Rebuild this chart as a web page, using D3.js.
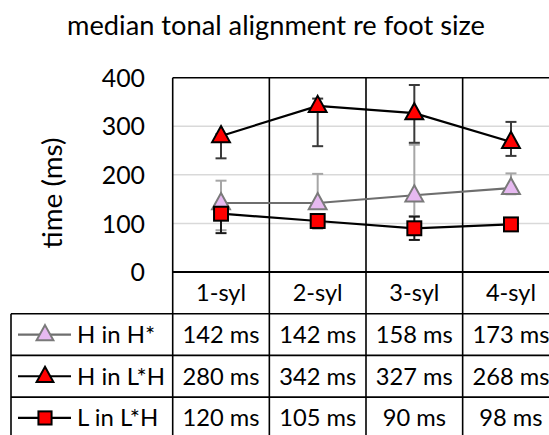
<!DOCTYPE html>
<html><head><meta charset="utf-8">
<script src="https://cdn.jsdelivr.net/npm/d3@7"></script>
<style>html,body{margin:0;padding:0;background:#fff;} svg{display:block;font-family:Lato,"Liberation Sans",sans-serif;}</style>
</head><body>
<svg id="c" width="549" height="435"></svg>
<script>
const title = "median tonal alignment re foot size";
const yTitle = "time (ms)";
const categories = ["1-syl", "2-syl", "3-syl", "4-syl"];
const yTicks = [0, 100, 200, 300, 400];
const seriesNames = ["H in H*", "H in L*H", "L in L*H"];
const hInHStar = [142, 142, 158, 173];
const hInLStarH = [280, 342, 327, 268];
const lInLStarH = [120, 105, 90, 98];
const hInHStarLow = [86, 130, 115, 160];
const hInHStarHigh = [188, 202, 262, 203];
const hInLStarHLow = [234, 259, 266, 239];
const hInLStarHHigh = [284, 357, 385, 309];
const lInLStarHLow = [80, 90, 66, 93];
const lInLStarHHigh = [130, 112, 114, 103];

const series = [
  {name: seriesNames[0], values: hInHStar, lo: hInHStarLow, hi: hInHStarHigh, marker: "triangle",
   line: "#6e6e6e", fill: "#e6b9f0", stroke: "#7a7a7a", err: "#a6a6a6"},
  {name: seriesNames[1], values: hInLStarH, lo: hInLStarHLow, hi: hInLStarHHigh, marker: "triangle",
   line: "#000", fill: "#ff0000", stroke: "#000", err: "#3a3a3a"},
  {name: seriesNames[2], values: lInLStarH, lo: lInLStarHLow, hi: lInLStarHHigh, marker: "square",
   line: "#000", fill: "#ff0000", stroke: "#000", err: "#1a1a1a"}
];

const svg = d3.select("#c");
const L = 172.7, R = 559.3, T = 77.7, B = 272;
const rowH = 41.7;
const tableBottom = B + rowH * 4;
const legendLeft = 11;

const x = d3.scaleBand().domain(categories).range([L, R]);
const y = d3.scaleLinear().domain([0, 400]).range([B, T]);
const cx = c => x(c) + x.bandwidth() / 2;

// scale a font size so that a sample string has a given width
function fitSize(sample, base, target) {
  const t = svg.append("text").attr("font-size", base).text(sample);
  const w = t.node().getComputedTextLength();
  t.remove();
  return w > 0 ? base * target / w : base;
}
const fsTitle = fitSize(title, 26, 418);
const fsCell = fitSize("158 ms", 24, 77);
const fsHead = fitSize("3-syl", 24, 50);
const fsLegend = fitSize("H in L*H", 24, 88);
const fsTick = fitSize("400", 24, 43.3);
const fsYTitle = fitSize(yTitle, 26, 111);

// title
svg.append("text").attr("x", 276).attr("y", 35).attr("text-anchor", "middle")
  .attr("font-size", fsTitle).attr("fill", "#000").text(title);

// y axis title
svg.append("text").attr("transform", "translate(62,193) rotate(-90)")
  .attr("text-anchor", "middle").attr("font-size", fsYTitle).attr("fill", "#000").text(yTitle);

// gridlines
svg.append("g").selectAll("line").data(yTicks.filter(t => t > 0 && t < 400)).join("line")
  .attr("x1", L).attr("x2", R).attr("y1", d => y(d)).attr("y2", d => y(d))
  .attr("stroke", "#d9d9d9").attr("stroke-width", 1.5);

// y axis labels
const yAxis = d3.axisLeft(y).tickValues(yTicks).tickSize(0).tickPadding(0);
const ya = svg.append("g").attr("transform", `translate(145,0)`).call(yAxis);
ya.select(".domain").remove();
ya.selectAll("text").attr("font-size", fsTick).attr("font-family", "Lato").attr("fill", "#000").attr("dy", "0.35em");

// borders
const g = svg.append("g").attr("stroke", "#000").attr("stroke-width", 1.6);
g.append("line").attr("x1", L).attr("x2", R).attr("y1", T).attr("y2", T);
g.append("line").attr("x1", L).attr("x2", L).attr("y1", T).attr("y2", tableBottom);
g.selectAll(".vd").data(categories.slice(1)).join("line")
  .attr("x1", d => x(d)).attr("x2", d => x(d)).attr("y1", T).attr("y2", tableBottom);
g.append("line").attr("x1", L).attr("x2", R).attr("y1", B).attr("y2", B).attr("stroke-width", 2.2);
[1, 2, 3, 4].forEach(i => {
  g.append("line").attr("x1", legendLeft).attr("x2", R).attr("y1", B + rowH * i).attr("y2", B + rowH * i);
});
g.append("line").attr("x1", legendLeft).attr("x2", legendLeft).attr("y1", B + rowH).attr("y2", tableBottom);

// marker drawing
function drawMarker(sel, s, px, py, size) {
  if (s.marker === "triangle") {
    const w = size * 1.05, h = size * 0.95;
    sel.append("path")
      .attr("d", `M${px},${py - h * 0.62} L${px + w / 2},${py + h * 0.38} L${px - w / 2},${py + h * 0.38} Z`)
      .attr("fill", s.fill).attr("stroke", s.stroke).attr("stroke-width", 2).attr("stroke-linejoin", "miter");
  } else {
    const a = size * 0.82;
    sel.append("rect").attr("x", px - a / 2).attr("y", py - a / 2).attr("width", a).attr("height", a)
      .attr("fill", s.fill).attr("stroke", s.stroke).attr("stroke-width", 2);
  }
}

// series
const plot = svg.append("g");
series.forEach(s => {
  const sg = plot.append("g");
  categories.forEach((c, i) => {
    const px = cx(c);
    sg.append("line").attr("x1", px).attr("x2", px).attr("y1", y(s.lo[i])).attr("y2", y(s.hi[i]))
      .attr("stroke", s.err).attr("stroke-width", 2);
    [s.lo[i], s.hi[i]].forEach(v => {
      sg.append("line").attr("x1", px - 5.5).attr("x2", px + 5.5).attr("y1", y(v)).attr("y2", y(v))
        .attr("stroke", s.err).attr("stroke-width", 2);
    });
  });
  const line = d3.line().x((d, i) => cx(categories[i])).y(d => y(d));
  sg.append("path").attr("d", line(s.values)).attr("fill", "none")
    .attr("stroke", s.line).attr("stroke-width", 2.2);
  categories.forEach((c, i) => drawMarker(sg, s, cx(c), y(s.values[i]), 17));
});

// table header
svg.append("g").selectAll("text").data(categories).join("text")
  .attr("x", d => cx(d)).attr("y", B + rowH / 2).attr("dy", "0.35em").attr("text-anchor", "middle")
  .attr("font-size", fsHead).attr("fill", "#000").text(d => d);

// table rows
series.forEach((s, r) => {
  const rowY = B + rowH * (r + 1) + rowH / 2;
  svg.append("g").selectAll("text").data(s.values).join("text")
    .attr("x", (d, i) => cx(categories[i])).attr("y", rowY).attr("dy", "0.35em").attr("text-anchor", "middle")
    .attr("font-size", fsCell).attr("fill", "#000").text(d => d + " ms");
  const lg = svg.append("g");
  lg.append("line").attr("x1", 18).attr("x2", 71).attr("y1", rowY).attr("y2", rowY)
    .attr("stroke", s.line).attr("stroke-width", 2.2);
  drawMarker(lg, s, 45, rowY, 16);
  lg.append("text").attr("x", 77).attr("y", rowY).attr("dy", "0.35em")
    .attr("font-size", fsLegend).attr("fill", "#000").text(s.name);
});
</script>
</body></html>
